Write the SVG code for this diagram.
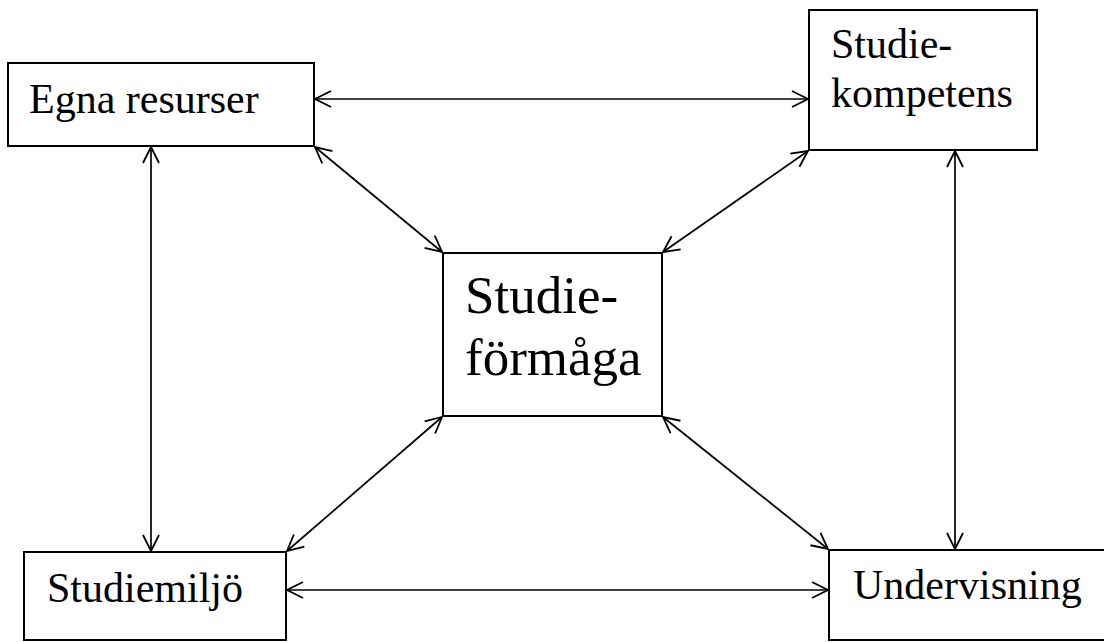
<svg xmlns="http://www.w3.org/2000/svg" width="1104" height="642" viewBox="0 0 1104 642">
<style>
.box{fill:#fff;stroke:#000;stroke-width:2}
.t{font-family:"Liberation Serif","Times New Roman",serif;font-size:42px;fill:#000}
.tb{font-family:"Liberation Serif","Times New Roman",serif;font-size:53px;fill:#000}
.c{stroke:#000;stroke-width:1.7;fill:none;marker-start:url(#ah);marker-end:url(#ah)}
</style>
<defs>
<marker id="ah" markerUnits="userSpaceOnUse" markerWidth="22" markerHeight="22" viewBox="-18 -11 22 22" refX="0" refY="0" orient="auto-start-reverse">
<path d="M-16,-8 L0,0 L-16,8" fill="none" stroke="#000" stroke-width="1.8"/>
</marker>
</defs>
<rect width="1104" height="642" fill="#fff"/>
<g id="connectors">
<line class="c" x1="315" y1="99" x2="808" y2="99"/>
<line class="c" x1="151" y1="147" x2="151" y2="551"/>
<line class="c" x1="955" y1="151" x2="955" y2="549"/>
<line class="c" x1="287" y1="590" x2="828" y2="590"/>
<line class="c" x1="315" y1="147" x2="442" y2="252"/>
<line class="c" x1="808" y1="151" x2="663" y2="252"/>
<line class="c" x1="287" y1="551" x2="442" y2="417"/>
<line class="c" x1="828" y1="549" x2="663" y2="417"/>
</g>
<g id="egna">
<rect class="box" x="8" y="63" width="306" height="83"/>
<text class="t" x="29" y="113">Egna resurser</text>
</g>
<g id="kompetens">
<rect class="box" x="809" y="10" width="228" height="140"/>
<text class="t" x="831" y="58">Studie-</text>
<text class="t" x="831" y="107">kompetens</text>
</g>
<g id="formaga">
<rect class="box" x="443" y="253" width="219" height="163"/>
<text class="tb" x="465" y="313">Studie-</text>
<text class="tb" x="465" y="375">förmåga</text>
</g>
<g id="studiemiljo">
<rect class="box" x="24" y="552" width="262" height="88"/>
<text class="t" x="47" y="602">Studiemiljö</text>
</g>
<g id="undervisning">
<rect class="box" x="829" y="550" width="280" height="90"/>
<text class="t" x="853" y="599">Undervisning</text>
</g>
</svg>
